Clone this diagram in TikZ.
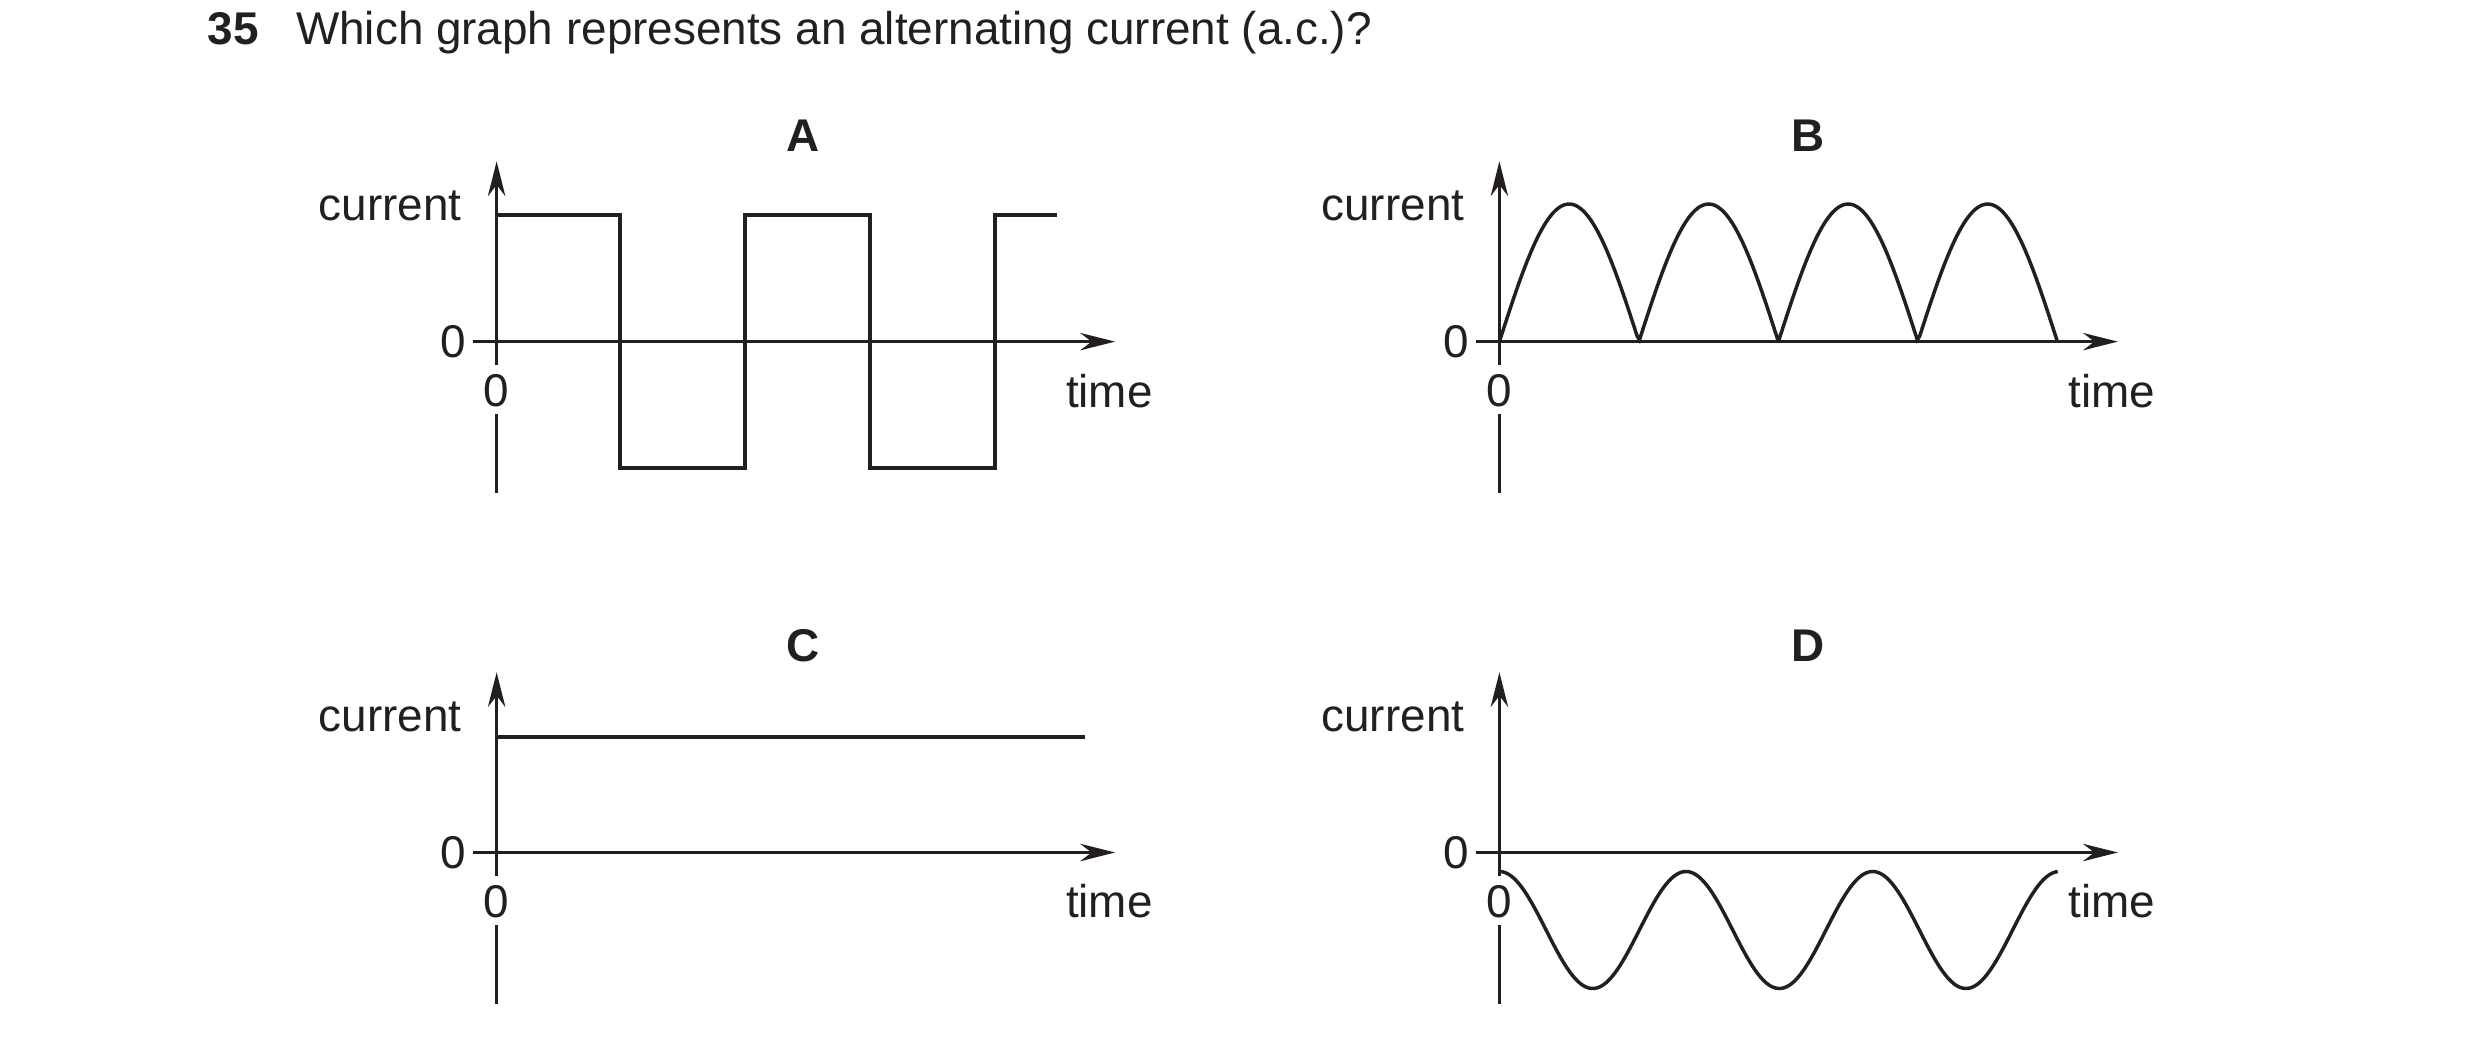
\documentclass[tikz,border=0pt]{standalone}
\usepackage{fontspec}
\setmainfont{Liberation Sans}
\usetikzlibrary{arrows.meta}
\definecolor{ink}{HTML}{231F20}
\begin{document}
\begin{tikzpicture}[x=1pt,y=-1pt,
  every node/.style={font=\fontsize{29}{34}\selectfont,text=ink,inner sep=0pt},
  ax/.style={line width=2.2pt,draw=ink},
  arr/.style={ax,-{Stealth[length=22pt,width=11pt]}},
  curve/.style={line width=2.2pt,draw=ink,line join=miter},
  ttl/.style={font=\fontsize{29}{34}\selectfont\bfseries}]
\useasboundingbox (0,0) rectangle (1568,660);
\node[ttl,anchor=base west] (num) at (131,28) {35};
\node[anchor=base west] (q) at (187,28) {Which graph represents an alternating current (a.c.)?};
\newcommand{\myaxes}[4]{% #1 x0, #2 y0 (x axis), #3 top, #4 name
  \draw[arr] (#1,#2+15) -- (#1,#3);
  \draw[ax] (#1,#2+46) -- (#1,#2+96);
  \draw[arr] (#1-15,#2) -- (#1+391,#2);
  \node[anchor=east] (#4c) at (#1-22,#2-86) {current};
  \node[anchor=east] (#4z) at (#1-19,#2) {0};
  \node (#4o) at (#1,#2+31) {0};
  \node[anchor=east] (#4t) at (#1+415,#2+31) {time};
}
% A
\node[ttl] (A) at (508,86) {A};
\myaxes{314}{216}{102}{a}
\draw[curve] (314,136) -- (392,136) -- (392,296) -- (471,296) -- (471,136) -- (550,136) -- (550,296) -- (629,296) -- (629,136) -- (668,136);
% B
\node[ttl] (B) at (1143,86) {B};
\myaxes{948}{216}{102}{b}
\draw[curve,line join=miter] plot[domain=0:352.8,samples=240] ({948+\x},{216-87*abs(sin(\x/88.2*180))});
% C
\node[ttl] (C) at (508,408) {C};
\myaxes{314}{539}{425}{c}
\draw[curve] (314,466) -- (686,466);
% D
\node[ttl] (D) at (1143,408) {D};
\myaxes{948}{539}{425}{d}
\draw[curve] plot[domain=0:353,samples=200] ({948+\x},{588-37*cos(\x/118*360)});
\end{tikzpicture}
\end{document}
